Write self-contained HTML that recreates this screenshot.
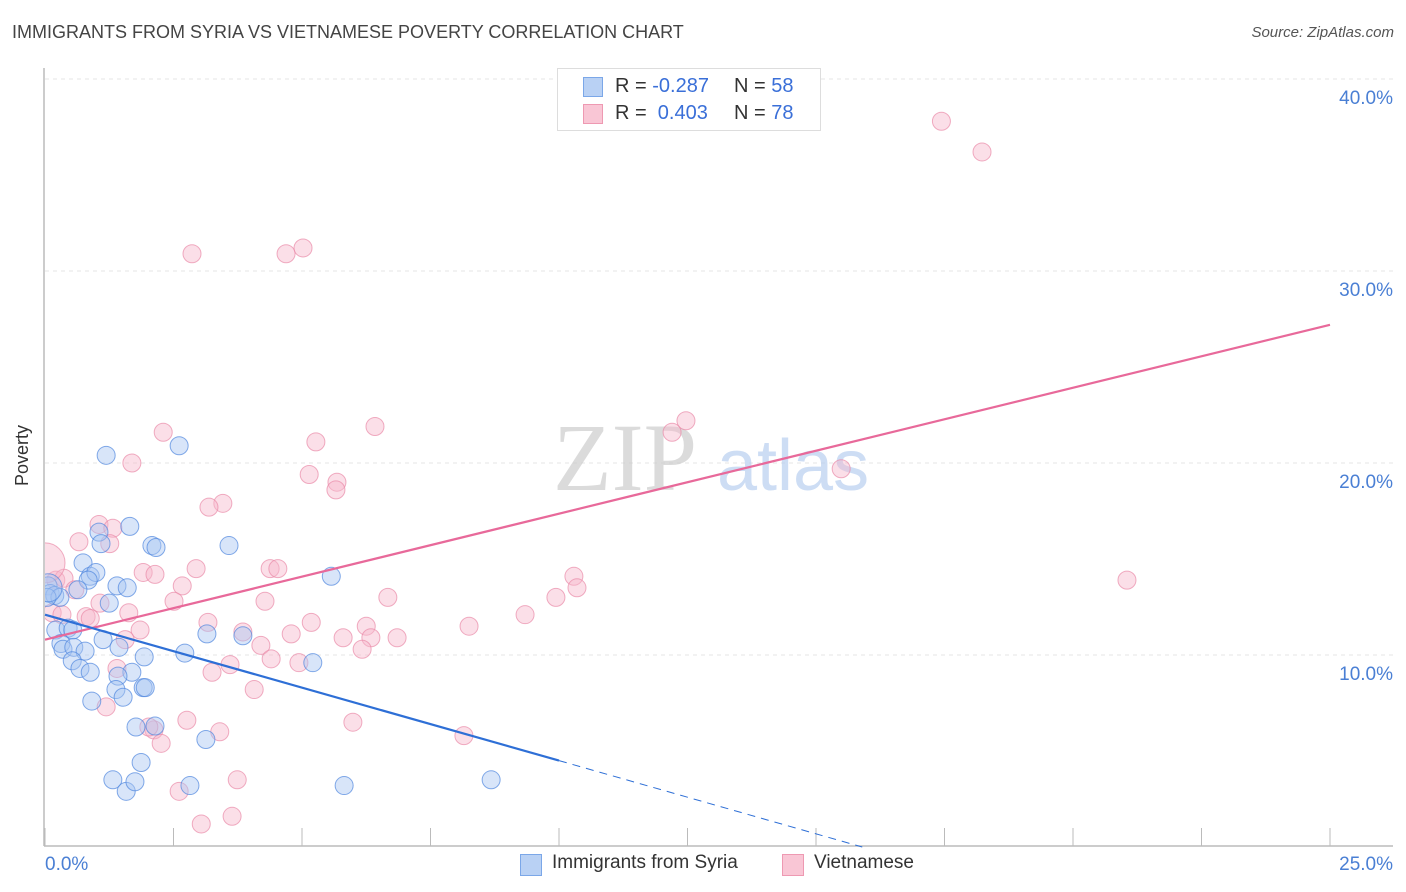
<!DOCTYPE html>
<html><head><meta charset="utf-8">
<style>
body{margin:0;background:#fff;font-family:"Liberation Sans",sans-serif;}
#wrap{position:relative;width:1406px;height:892px;overflow:hidden;}
.t{position:absolute;white-space:nowrap;}
</style></head>
<body>
<div id="wrap">
<div class="t" style="left:12px;top:22px;font-size:18px;color:#444;">IMMIGRANTS FROM SYRIA VS VIETNAMESE POVERTY CORRELATION CHART</div>
<div class="t" style="right:12px;top:24px;font-size:15px;color:#555;font-style:italic;">Source: ZipAtlas.com</div>
<svg id="svg" width="1406" height="892" style="position:absolute;left:0;top:0"><defs><clipPath id="pc"><rect x="45" y="60" width="1360" height="786"/></clipPath></defs></svg>
<div style="position:absolute;left:557px;top:68px;width:262px;height:61px;border:1px solid #ddd;background:#fff;font-size:20px;">
 <div style="position:absolute;left:25px;top:8px;width:18px;height:18px;background:#b9d1f4;border:1px solid #7ba7e8;"></div>
 <div class="t" style="left:57px;top:6px;color:#333">R = <span style="color:#3a6fd8">-0.287</span></div>
 <div class="t" style="left:176px;top:6px;color:#333">N = <span style="color:#3a6fd8">58</span></div>
 <div style="position:absolute;left:25px;top:35px;width:18px;height:18px;background:#f9c6d5;border:1px solid #ee99b2;"></div>
 <div class="t" style="left:57px;top:33px;color:#333">R = &nbsp;<span style="color:#3a6fd8">0.403</span></div>
 <div class="t" style="left:176px;top:33px;color:#333">N = <span style="color:#3a6fd8">78</span></div>
</div>
<div style="position:absolute;left:520px;top:852px;font-size:19px;color:#333;">
 <div style="position:absolute;left:0;top:2px;width:20px;height:20px;background:#b9d1f4;border:1px solid #7ba7e8;"></div>
 <div class="t" style="left:32px;top:0">Immigrants from Syria</div>
 <div style="position:absolute;left:262px;top:2px;width:20px;height:20px;background:#f9c6d5;border:1px solid #ee99b2;"></div>
 <div class="t" style="left:294px;top:0">Vietnamese</div>
</div>
<div class="t" style="left:-8px;top:445px;font-size:18px;color:#333;transform:rotate(-90deg);">Poverty</div>
</div>
<script>
const xTicks=[0,2.5,5,7.5,10,12.5,15,17.5,20,22.5,25];
const yTicks=[10,20,30,40];
const yTickLabels=["10.0%","20.0%","30.0%","40.0%"];
const xLabels=["0.0%","25.0%"];
const syriaX=[1.19,2.61,1.65,1.05,1.09,2.08,2.16,3.58,0.74,5.57,0.88,0.99,0.84,1.40,1.60,0.06,0.10,0.19,0.29,0.04,0.64,1.25,3.15,3.85,0.21,0.45,0.54,0.31,0.35,0.56,1.13,1.44,0.78,2.72,5.21,1.93,0.53,0.68,0.88,1.69,1.42,1.38,1.91,1.95,0.91,1.52,1.77,2.14,3.13,1.87,1.32,1.58,1.75,2.82,5.82,8.68];
const syriaY=[20.4,20.9,16.7,16.4,15.8,15.7,15.6,15.7,14.8,14.1,14.1,14.3,13.9,13.6,13.5,13.6,13.2,13.1,13.0,13.0,13.4,12.7,11.1,11.0,11.3,11.4,11.3,10.6,10.3,10.4,10.8,10.4,10.2,10.1,9.6,9.9,9.7,9.3,9.1,9.1,8.9,8.2,8.3,8.3,7.6,7.8,6.25,6.3,5.6,4.4,3.5,2.9,3.4,3.2,3.2,3.5];
const vietX=[2.86,4.69,5.02,17.44,18.23,12.47,12.20,6.42,2.30,5.27,1.69,15.49,5.14,5.68,5.66,3.46,3.19,1.05,1.32,1.26,0.66,1.91,2.14,4.38,4.53,2.94,10.29,10.35,9.94,2.67,0.21,0.37,0.58,1.07,4.28,1.63,0.80,0.88,2.51,6.67,9.34,3.17,6.25,5.18,8.25,3.85,1.85,4.79,5.80,6.34,6.85,1.56,4.20,0.14,0.33,3.60,4.94,4.40,6.17,1.40,3.25,4.07,1.19,2.76,2.12,3.40,2.02,5.99,2.26,8.15,21.05,3.74,2.61,3.04,3.64];
const vietY=[30.9,30.9,31.2,37.8,36.2,22.2,21.6,21.9,21.6,21.1,20.0,19.7,19.4,19.0,18.6,17.9,17.7,16.8,16.6,15.8,15.9,14.3,14.2,14.5,14.5,14.5,14.1,13.5,13.0,13.6,13.9,14.0,13.4,12.7,12.8,12.2,12.0,11.9,12.8,13.0,12.1,11.7,11.5,11.7,11.5,11.2,11.3,11.1,10.9,10.9,10.9,10.8,10.5,12.2,12.1,9.5,9.6,9.8,10.3,9.3,9.1,8.2,7.3,6.6,6.1,6.0,6.25,6.5,5.4,5.8,13.9,3.5,2.9,1.2,1.6];
const bigSyria=[0.06,13.5];
const bigViet=[0,14.8];
const syriaTrend=[0,12.1,10,4.5,15.9,0];
const vietTrend=[0,10.8,25,27.2];

const NS="http://www.w3.org/2000/svg";
const svg=document.getElementById('svg');
const X=v=>45+v*(1285/25);
const Y=v=>847-v*19.2;
function mk(tag,attrs){const e=document.createElementNS(NS,tag);for(const k in attrs)e.setAttribute(k,attrs[k]);svg.appendChild(e);return e;}
yTicks.forEach((t,i)=>{
 const g=mk('line',{x1:45,x2:1393,y1:Y(t),y2:Y(t),stroke:'#e4e4e4','stroke-dasharray':'4,4'});
 
 
 const tx=mk('text',{x:1393,y:Y(t)+25,'text-anchor':'end','font-size':19,fill:'#4a7fd4','font-family':'Liberation Sans'});
 tx.textContent=yTickLabels[i];
 
 
});
const ax=mk('line',{x1:44,x2:44,y1:68,y2:846,stroke:'#bbb','stroke-width':1.5});


const bx=mk('line',{x1:44,x2:1393,y1:846,y2:846,stroke:'#bbb','stroke-width':1.5});


xTicks.forEach(t=>{
 const l=mk('line',{x1:X(t),x2:X(t),y1:828,y2:846,stroke:'#bbb'});
 
 
});
[[0,'start',45],[25,'end',1393]].forEach((a,i)=>{
 const tx=mk('text',{x:a[2],y:870,'text-anchor':a[1],'font-size':19,fill:'#4a7fd4','font-family':'Liberation Sans'});
 tx.textContent=xLabels[i];
 
 
});
const w1=mk('text',{x:553,y:490,'font-size':96,fill:'#ccc','font-family':'Liberation Serif','opacity':0.7});
w1.textContent='ZIP';


const w2=mk('text',{x:717,y:490,'font-size':72,fill:'#b9cff0','font-family':'Liberation Sans','opacity':0.7});
w2.textContent='atlas';


function pt(x,y,r,c,s,name){
 const e=mk('circle',{cx:X(x),cy:Y(y),r:r,fill:c,'fill-opacity':0.45,stroke:s,'stroke-opacity':0.7,'stroke-width':1,'clip-path':'url(#pc)'});
 
 
}
vietX.forEach((x,i)=>pt(x,vietY[i],9,'#f7b8cb','#e98aa8','point-vietnamese'));
pt(bigViet[0],bigViet[1],20,'#f7b8cb','#e98aa8','point-vietnamese');
syriaX.forEach((x,i)=>pt(x,syriaY[i],9,'#a9c6f1','#4f86de','point-syria'));
pt(bigSyria[0],bigSyria[1],14,'#a9c6f1','#4f86de','point-syria');
const vl=mk('line',{x1:X(vietTrend[0]),y1:Y(vietTrend[1]),x2:X(vietTrend[2]),y2:Y(vietTrend[3]),stroke:'#e8699a','stroke-width':2.2});


const sl=mk('line',{x1:X(syriaTrend[0]),y1:Y(syriaTrend[1]),x2:X(syriaTrend[2]),y2:Y(syriaTrend[3]),stroke:'#2e6fd6','stroke-width':2.2});


const sd=mk('line',{x1:X(syriaTrend[2]),y1:Y(syriaTrend[3]),x2:X(syriaTrend[4]),y2:Y(syriaTrend[5]),stroke:'#2e6fd6','stroke-width':1,'stroke-dasharray':'8,6'});


</script>
</body></html>
